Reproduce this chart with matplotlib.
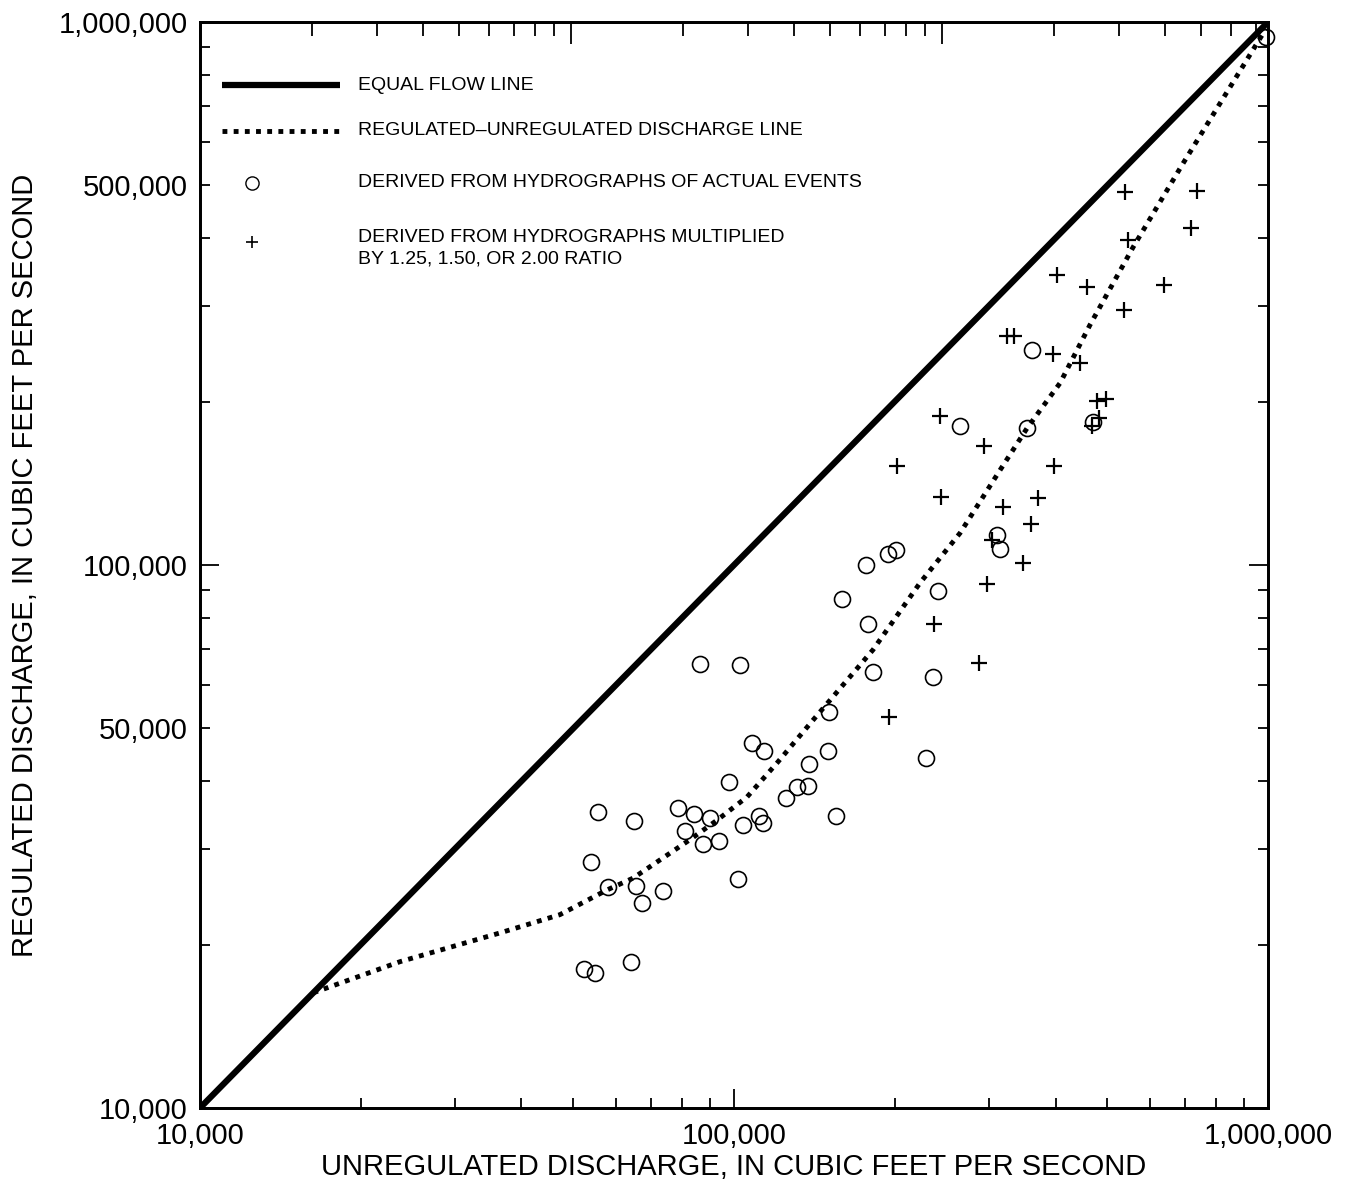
import math
import matplotlib
matplotlib.use("Agg")
import matplotlib.pyplot as plt
from matplotlib.ticker import LogLocator, FuncFormatter, NullFormatter

plt.rcParams['font.family'] = ['Liberation Sans', 'DejaVu Sans']

# datos (pies cubicos por segundo)
equal_x = [10000, 1000000]
equal_y = [10000, 1000000]

curve_x = [16300, 23700, 36400, 47200, 57800, 64700, 82700, 93000, 105800, 120400,
           140600, 182100, 223000, 265000, 315000, 354000, 408000, 464000, 559000,
           690000, 990000]
curve_y = [16300, 18600, 21000, 22700, 25200, 26500, 31200, 33900, 37400, 43200,
           51800, 69800, 92700, 114500, 149600, 178800, 216400, 276700, 385000,
           545000, 970000]

# eventos reales (circulos)
obs_x = [86400, 102600, 176700, 194300, 201100, 159300, 178200, 182100, 241000, 235900,
         108100, 113800, 150000, 150600, 138200, 97900, 131200, 137600, 125200, 78600,
         84200, 90200, 55600, 65000, 155200, 81000, 87500, 93700, 103900, 111400,
         113300, 54000, 58100, 65500, 67300, 73600, 101700, 52400, 54900, 64100,
         228800, 265000, 361500, 353800, 310900, 314900, 470200, 991000]
obs_y = [65700, 65400, 100000, 104800, 106600, 86600, 77900, 63500, 89600, 62200,
         47000, 45400, 45400, 53600, 43000, 39800, 39000, 39200, 37200, 35700,
         34800, 34200, 35100, 33800, 34500, 32400, 30600, 31000, 33200, 34500,
         33500, 28400, 25500, 25600, 23900, 25100, 26400, 18000, 17700, 18600,
         44100, 180300, 248800, 178800, 113600, 107000, 183400, 938000]

# hidrogramas multiplicados (cruces)
mult_x = [539900, 736200, 546900, 717500, 402600, 458200, 638500, 537600, 324400, 334400,
          395700, 444600, 478400, 497300, 482500, 468100, 243100, 293900, 202000, 397400,
          244100, 318900, 370900, 359900, 304200, 347700, 297700, 236900, 287600, 195100]
mult_y = [486400, 488500, 396700, 417500, 342000, 325100, 328000, 294800, 264100, 264100,
          244700, 235500, 200500, 202200, 186500, 180300, 188100, 165700, 152200, 152200,
          133400, 127900, 132800, 119000, 111200, 100900, 92300, 77900, 66000, 52500]

fig = plt.figure(figsize=(13.53, 11.84), dpi=100)
ax = fig.add_axes([0.1478, 0.0642, 0.7894, 0.9172])

ax.plot(equal_x, equal_y, color="black", lw=4.5, solid_capstyle="butt")
ax.plot(curve_x, curve_y, color="black", lw=3.5, linestyle=(0, (1, 1.3)),
        dash_capstyle="butt")
ax.plot(obs_x, obs_y, linestyle="none", marker="o", ms=11.5, mfc="none",
        mec="black", mew=1.2, clip_on=False)
ax.plot(mult_x, mult_y, linestyle="none", marker="+", ms=11, mec="black", mew=1.6)

ax.set_xscale("log")
ax.set_yscale("log")
ax.set_xlim(10000, 1000000)
ax.set_ylim(10000, 1000000)

fmt = FuncFormatter(lambda v, p: f"{v:,.0f}")
def fmt_cinco(v, p):
    e = math.floor(math.log10(v))
    if round(v / 10**e) == 5:
        return f"{v:,.0f}"
    return ""

for eje in (ax.xaxis, ax.yaxis):
    eje.set_major_locator(LogLocator(base=10, numticks=10))
    eje.set_minor_locator(LogLocator(base=10, subs=range(2, 10), numticks=10))
    eje.set_major_formatter(fmt)
ax.xaxis.set_minor_formatter(NullFormatter())
ax.yaxis.set_minor_formatter(FuncFormatter(fmt_cinco))

ax.tick_params(which="both", direction="in", top=False, right=True, width=1.3,
               labelsize=21, colors="black")
ax.tick_params(which="major", length=14)
ax.tick_params(which="minor", length=7)
ax.tick_params(axis="y", which="both", pad=9)
ax.tick_params(axis="x", which="both", pad=10)
for s in ax.spines.values():
    s.set_linewidth(2)

# eje superior: marcas con otra escala logaritmica (sin etiquetas)
ax_top = ax.twiny()
ax_top.set_xscale("log")
ax_top.set_xlim(1, 10 ** (1068 / 371))
ax_top.xaxis.set_major_locator(LogLocator(base=10, numticks=10))
ax_top.xaxis.set_minor_locator(LogLocator(base=10, subs=range(2, 10), numticks=10))
ax_top.xaxis.set_major_formatter(NullFormatter())
ax_top.xaxis.set_minor_formatter(NullFormatter())
ax_top.tick_params(which="both", direction="in", width=1.3)
ax_top.tick_params(which="major", length=16)
ax_top.tick_params(which="minor", length=10)
for s in ax_top.spines.values():
    s.set_linewidth(2)

ax.set_xlabel("UNREGULATED DISCHARGE, IN CUBIC FEET PER SECOND", fontsize=21, labelpad=2)
ax.set_ylabel("REGULATED DISCHARGE, IN CUBIC FEET PER SECOND", fontsize=21, labelpad=14)

# leyenda dibujada a mano
tr = ax.transAxes
ax.plot([0.021, 0.131], [0.942, 0.942], transform=tr, color="black", lw=4.5,
        solid_capstyle="butt")
ax.plot([0.021, 0.131], [0.900, 0.900], transform=tr, color="black", lw=3.5,
        linestyle=(0, (1, 1.3)), dash_capstyle="butt")
ax.plot([0.049], [0.852], transform=tr, marker="o", ms=9.5, mfc="none", mec="black", mew=1.0)
ax.plot([0.049], [0.797], transform=tr, marker="+", ms=9, mec="black", mew=1.2)
tx = 0.148
ax.text(tx, 0.942, "EQUAL FLOW LINE", transform=tr, fontsize=14, va="center")
ax.text(tx, 0.900, "REGULATED\u2013UNREGULATED DISCHARGE LINE", transform=tr,
        fontsize=14, va="center")
ax.text(tx, 0.852, "DERIVED FROM HYDROGRAPHS OF ACTUAL EVENTS", transform=tr,
        fontsize=14, va="center")
ax.text(tx, 0.809, "DERIVED FROM HYDROGRAPHS MULTIPLIED\nBY 1.25, 1.50, OR 2.00 RATIO",
        transform=tr, fontsize=14, va="top", linespacing=1.35)

fig.savefig("out.png", dpi=100)
